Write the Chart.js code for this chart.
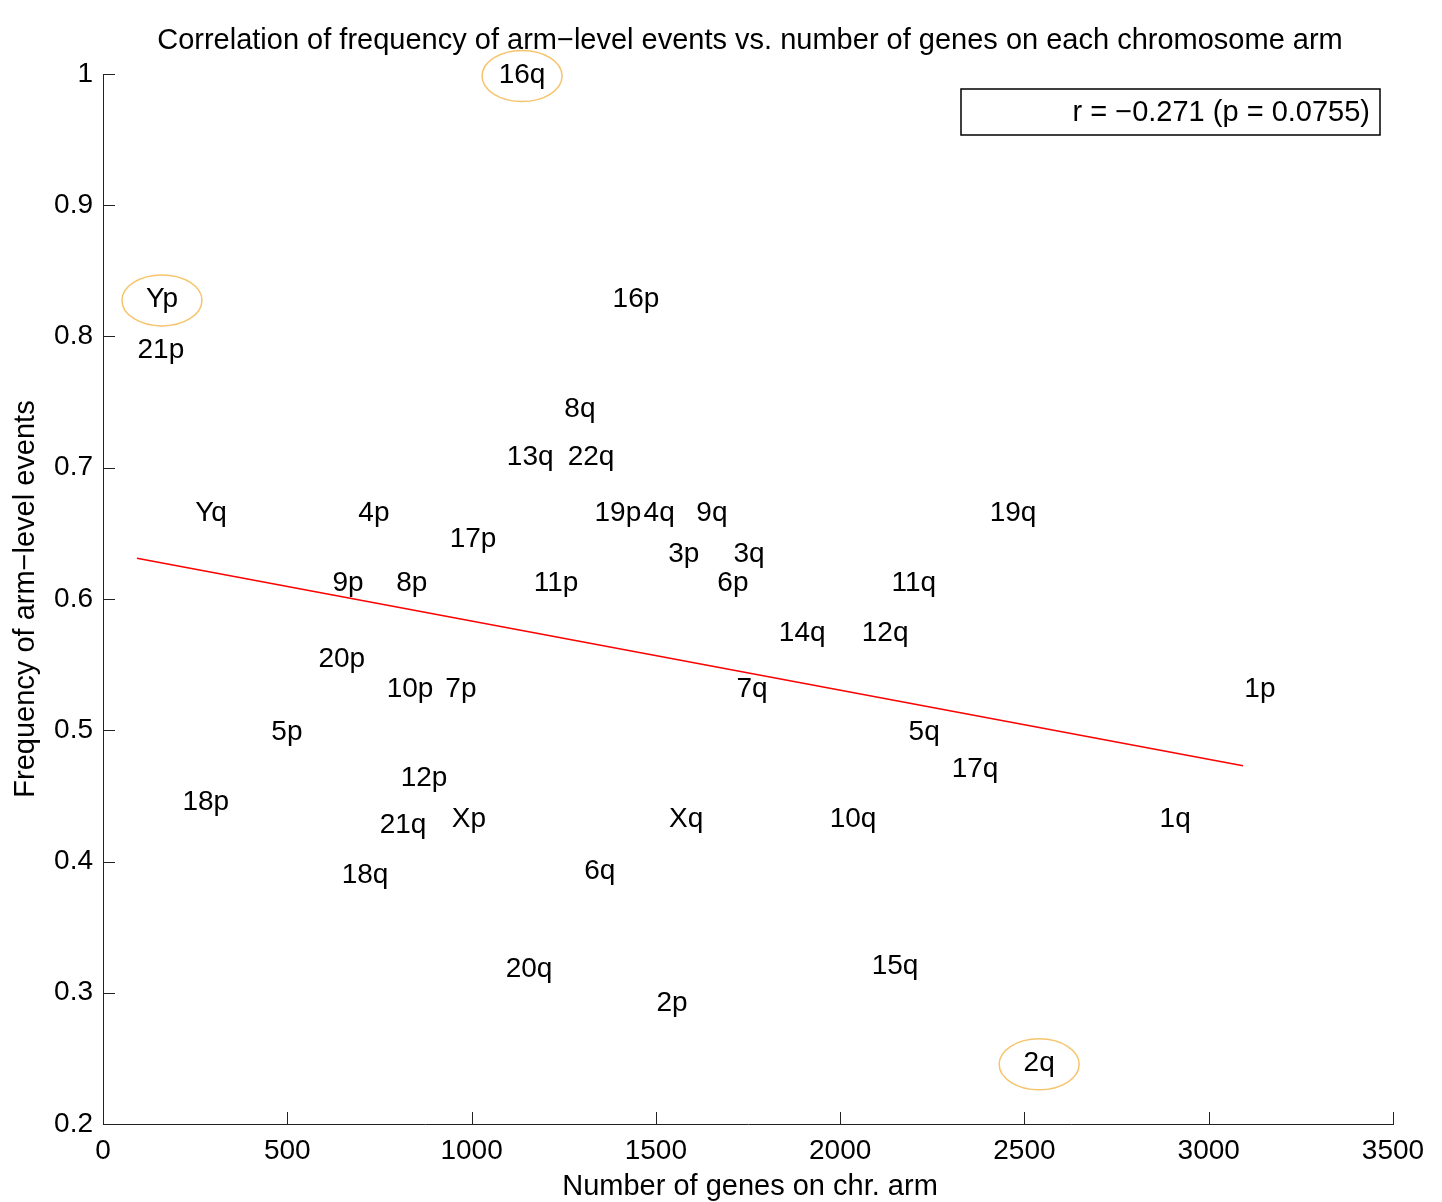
<!DOCTYPE html>
<html>
<head>
<meta charset="utf-8">
<script src="https://cdn.jsdelivr.net/npm/chart.js@4/dist/chart.umd.min.js"></script>
<style>
  html, body { margin: 0; padding: 0; background: #ffffff; }
  #wrap { width: 1442px; height: 1202px; }
</style>
</head>
<body>
<div id="wrap"><canvas id="c" width="1442" height="1202"></canvas></div>
<script>
// ---------------- data ----------------
const armLabels = ['16q','Yp','21p','16p','8q','13q','22q','Yq','4p','19p','4q','9q','19q','17p','3p','3q','9p','8p','11p','6p','11q','14q','12q','20p','10p','7p','7q','1p','5p','5q','17q','12p','18p','21q','Xp','Xq','10q','1q','18q','6q','20q','15q','2p','2q'];
const geneCounts = [1137,160,157,1446,1294,1159,1324,293,735,1397,1509,1652,2469,1004,1576,1753,665,838,1229,1709,2200,1897,2122,648,833,971,1761,3139,499,2228,2366,871,279,814,993,1582,2035,2909,711,1348,1156,2149,1544,2540];
const eventFreq  = [1.000,0.829,0.790,0.829,0.745,0.709,0.709,0.666,0.666,0.666,0.666,0.666,0.666,0.646,0.635,0.635,0.613,0.613,0.613,0.613,0.613,0.575,0.575,0.555,0.532,0.532,0.532,0.532,0.499,0.499,0.471,0.464,0.446,0.428,0.433,0.433,0.433,0.433,0.390,0.393,0.319,0.321,0.293,0.247];
const highlightedArms = ['16q','Yp','2q'];
const fitX = [92, 3093];
const fitY = [0.631, 0.473];
const xTicks = [0,500,1000,1500,2000,2500,3000,3500];
const yTicks = [0.2,0.3,0.4,0.5,0.6,0.7,0.8,0.9,1];
const xTickLabels = ['0','500','1000','1500','2000','2500','3000','3500'];
const yTickLabels = ['0.2','0.3','0.4','0.5','0.6','0.7','0.8','0.9','1'];
const titleText = 'Correlation of frequency of arm\u2212level events vs. number of genes on each chromosome arm';
const xTitle = 'Number of genes on chr. arm';
const yTitle = 'Frequency of arm\u2212level events';
const statText = 'r = \u22120.271 (p = 0.0755)';

// ---------------- drawing ----------------
const FONT = '"Liberation Sans", Arial, Helvetica, sans-serif';
const points = armLabels.map((l, i) => ({ x: geneCounts[i], y: eventFreq[i], label: l }));

const decorPlugin = {
  id: 'decor',
  afterDatasetsDraw(chart) {
    const ctx = chart.ctx;
    const xs = chart.scales.x, ys = chart.scales.y;
    const ca = chart.chartArea;
    ctx.save();
    // inward tick marks
    ctx.strokeStyle = '#222';
    ctx.lineWidth = 1;
    ctx.beginPath();
    xTicks.forEach(v => {
      const px = Math.round(xs.getPixelForValue(v)) + 0.5;
      ctx.moveTo(px, ca.bottom);
      ctx.lineTo(px, ca.bottom - 12);
    });
    yTicks.forEach(v => {
      const py = Math.round(ys.getPixelForValue(v)) + 0.5;
      ctx.moveTo(ca.left, py);
      ctx.lineTo(ca.left + 12, py);
    });
    ctx.stroke();

    // arm labels
    ctx.fillStyle = '#000';
    ctx.font = '28px ' + FONT;
    ctx.textAlign = 'center';
    ctx.textBaseline = 'middle';
    points.forEach(p => {
      ctx.fillText(p.label, xs.getPixelForValue(p.x), ys.getPixelForValue(p.y) + 1);
    });

    // highlight ellipses
    ctx.strokeStyle = '#f6c46c';
    ctx.lineWidth = 1.5;
    points.filter(p => highlightedArms.includes(p.label)).forEach(p => {
      const cx = xs.getPixelForValue(p.x);
      const cy = ys.getPixelForValue(p.y) + 2;
      ctx.beginPath();
      ctx.ellipse(cx, cy, 40, 25.5, 0, 0, Math.PI * 2);
      ctx.stroke();
    });

    // stat box
    const bx1 = ca.right - 13, bx0 = bx1 - 419, by0 = ca.top + 15, by1 = by0 + 46;
    ctx.strokeStyle = '#000';
    ctx.lineWidth = 1.5;
    ctx.strokeRect(bx0, by0, bx1 - bx0, by1 - by0);
    ctx.font = '29px ' + FONT;
    ctx.textAlign = 'right';
    ctx.fillText(statText, bx1 - 10, (by0 + by1) / 2 + 1);

    // title
    ctx.textAlign = 'center';
    ctx.fillText(titleText, (ca.left + ca.right) / 2 + 2, ca.top - 33);

    // axis titles
    ctx.fillText(xTitle, (ca.left + ca.right) / 2 + 2, ca.bottom + 63);
    ctx.save();
    ctx.translate(26, (ca.top + ca.bottom) / 2);
    ctx.rotate(-Math.PI / 2);
    ctx.fillText(yTitle, 0, 0);
    ctx.restore();
    ctx.restore();
  }
};

new Chart(document.getElementById('c'), {
  type: 'scatter',
  data: {
    datasets: [
      { data: points, pointRadius: 0, pointHoverRadius: 0, showLine: false },
      { type: 'line', data: fitX.map((x, i) => ({ x: x, y: fitY[i] })), borderColor: '#ff0000', borderWidth: 1.5, pointRadius: 0, fill: false, tension: 0 }
    ]
  },
  options: {
    responsive: false,
    devicePixelRatio: 1,
    animation: false,
    events: [],
    layout: { padding: { top: 74, right: 49, bottom: 0, left: 0 } },
    plugins: { legend: { display: false }, tooltip: { enabled: false }, title: { display: false } },
    scales: {
      x: {
        type: 'linear', min: 0, max: 3500,
        afterBuildTicks: s => { s.ticks = xTicks.map(v => ({ value: v })); },
        afterFit: s => { s.height = 78; },
        grid: { display: false, drawTicks: false },
        border: { display: true, color: '#222', width: 1 },
        ticks: { padding: 10, color: '#000', font: { family: FONT, size: 28 }, maxRotation: 0, autoSkip: false,
                 callback: (v, i) => xTickLabels[i] }
      },
      y: {
        type: 'linear', min: 0.2, max: 1,
        afterBuildTicks: s => { s.ticks = yTicks.map(v => ({ value: v })); },
        afterFit: s => { s.width = 103; },
        grid: { display: false, drawTicks: false },
        border: { display: true, color: '#222', width: 1 },
        ticks: { padding: 10, color: '#000', font: { family: FONT, size: 28 }, autoSkip: false,
                 callback: (v, i) => yTickLabels[i] }
      }
    }
  },
  plugins: [decorPlugin]
});
</script>
</body>
</html>
